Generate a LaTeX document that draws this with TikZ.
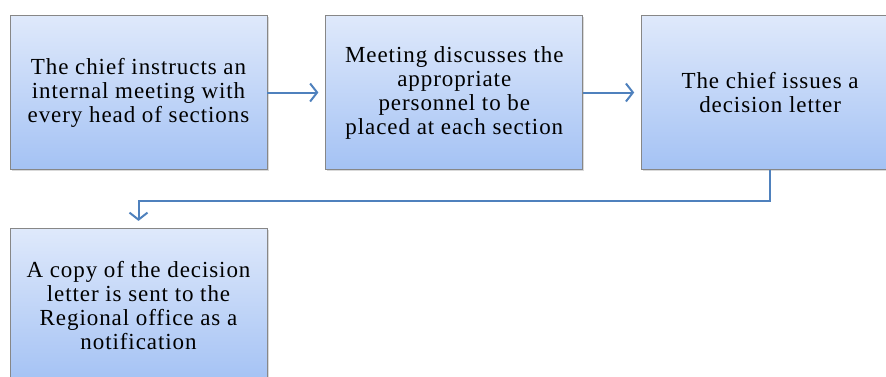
\documentclass[tikz,border=0pt]{standalone}
\usepackage{fontspec}
\setmainfont{Liberation Serif}[LetterSpace=4]
\usetikzlibrary{arrows.meta, positioning, shadows}
\definecolor{boxtop}{RGB}{223,233,251}
\definecolor{boxbot}{RGB}{164,194,244}
\definecolor{boxline}{RGB}{135,135,135}
\definecolor{flowblue}{RGB}{79,129,189}

\begin{document}
\begin{tikzpicture}[x=1pt, y=1pt, node distance=58pt,
    box/.style={draw=boxline, line width=0.8pt, top color=boxtop, bottom color=boxbot,
        minimum width=257pt, minimum height=154pt, align=center,
        font=\fontsize{23}{24}\selectfont,
        drop shadow={shadow xshift=1.5pt, shadow yshift=-1.5pt, opacity=0.3}},
    flow/.style={draw=flowblue, line width=2pt, -{Straight Barb[length=7pt, width=18pt]}}]
    \useasboundingbox (0,0) rectangle (886,-376);

    \node[box] (instr) at (138.5,-92.5) {The chief instructs an\\internal meeting with\\every head of sections};
    \node[box, right=of instr] (meet) {Meeting discusses the\\appropriate\\personnel to be\\placed at each section};
    \node[box, right=of meet] (issue) {The chief issues a\\decision letter};
    \node[box, below=of instr] (copy) {A copy of the decision\\letter is sent to the\\Regional office as a\\notification};

    \draw[flow, shorten >=7pt] (instr) -- (meet);
    \draw[flow, shorten >=7pt] (meet) -- (issue);
    \draw[flow] (issue.south) -- ++(0,-31) -| ([yshift=7pt]copy.north);
\end{tikzpicture}
\end{document}
